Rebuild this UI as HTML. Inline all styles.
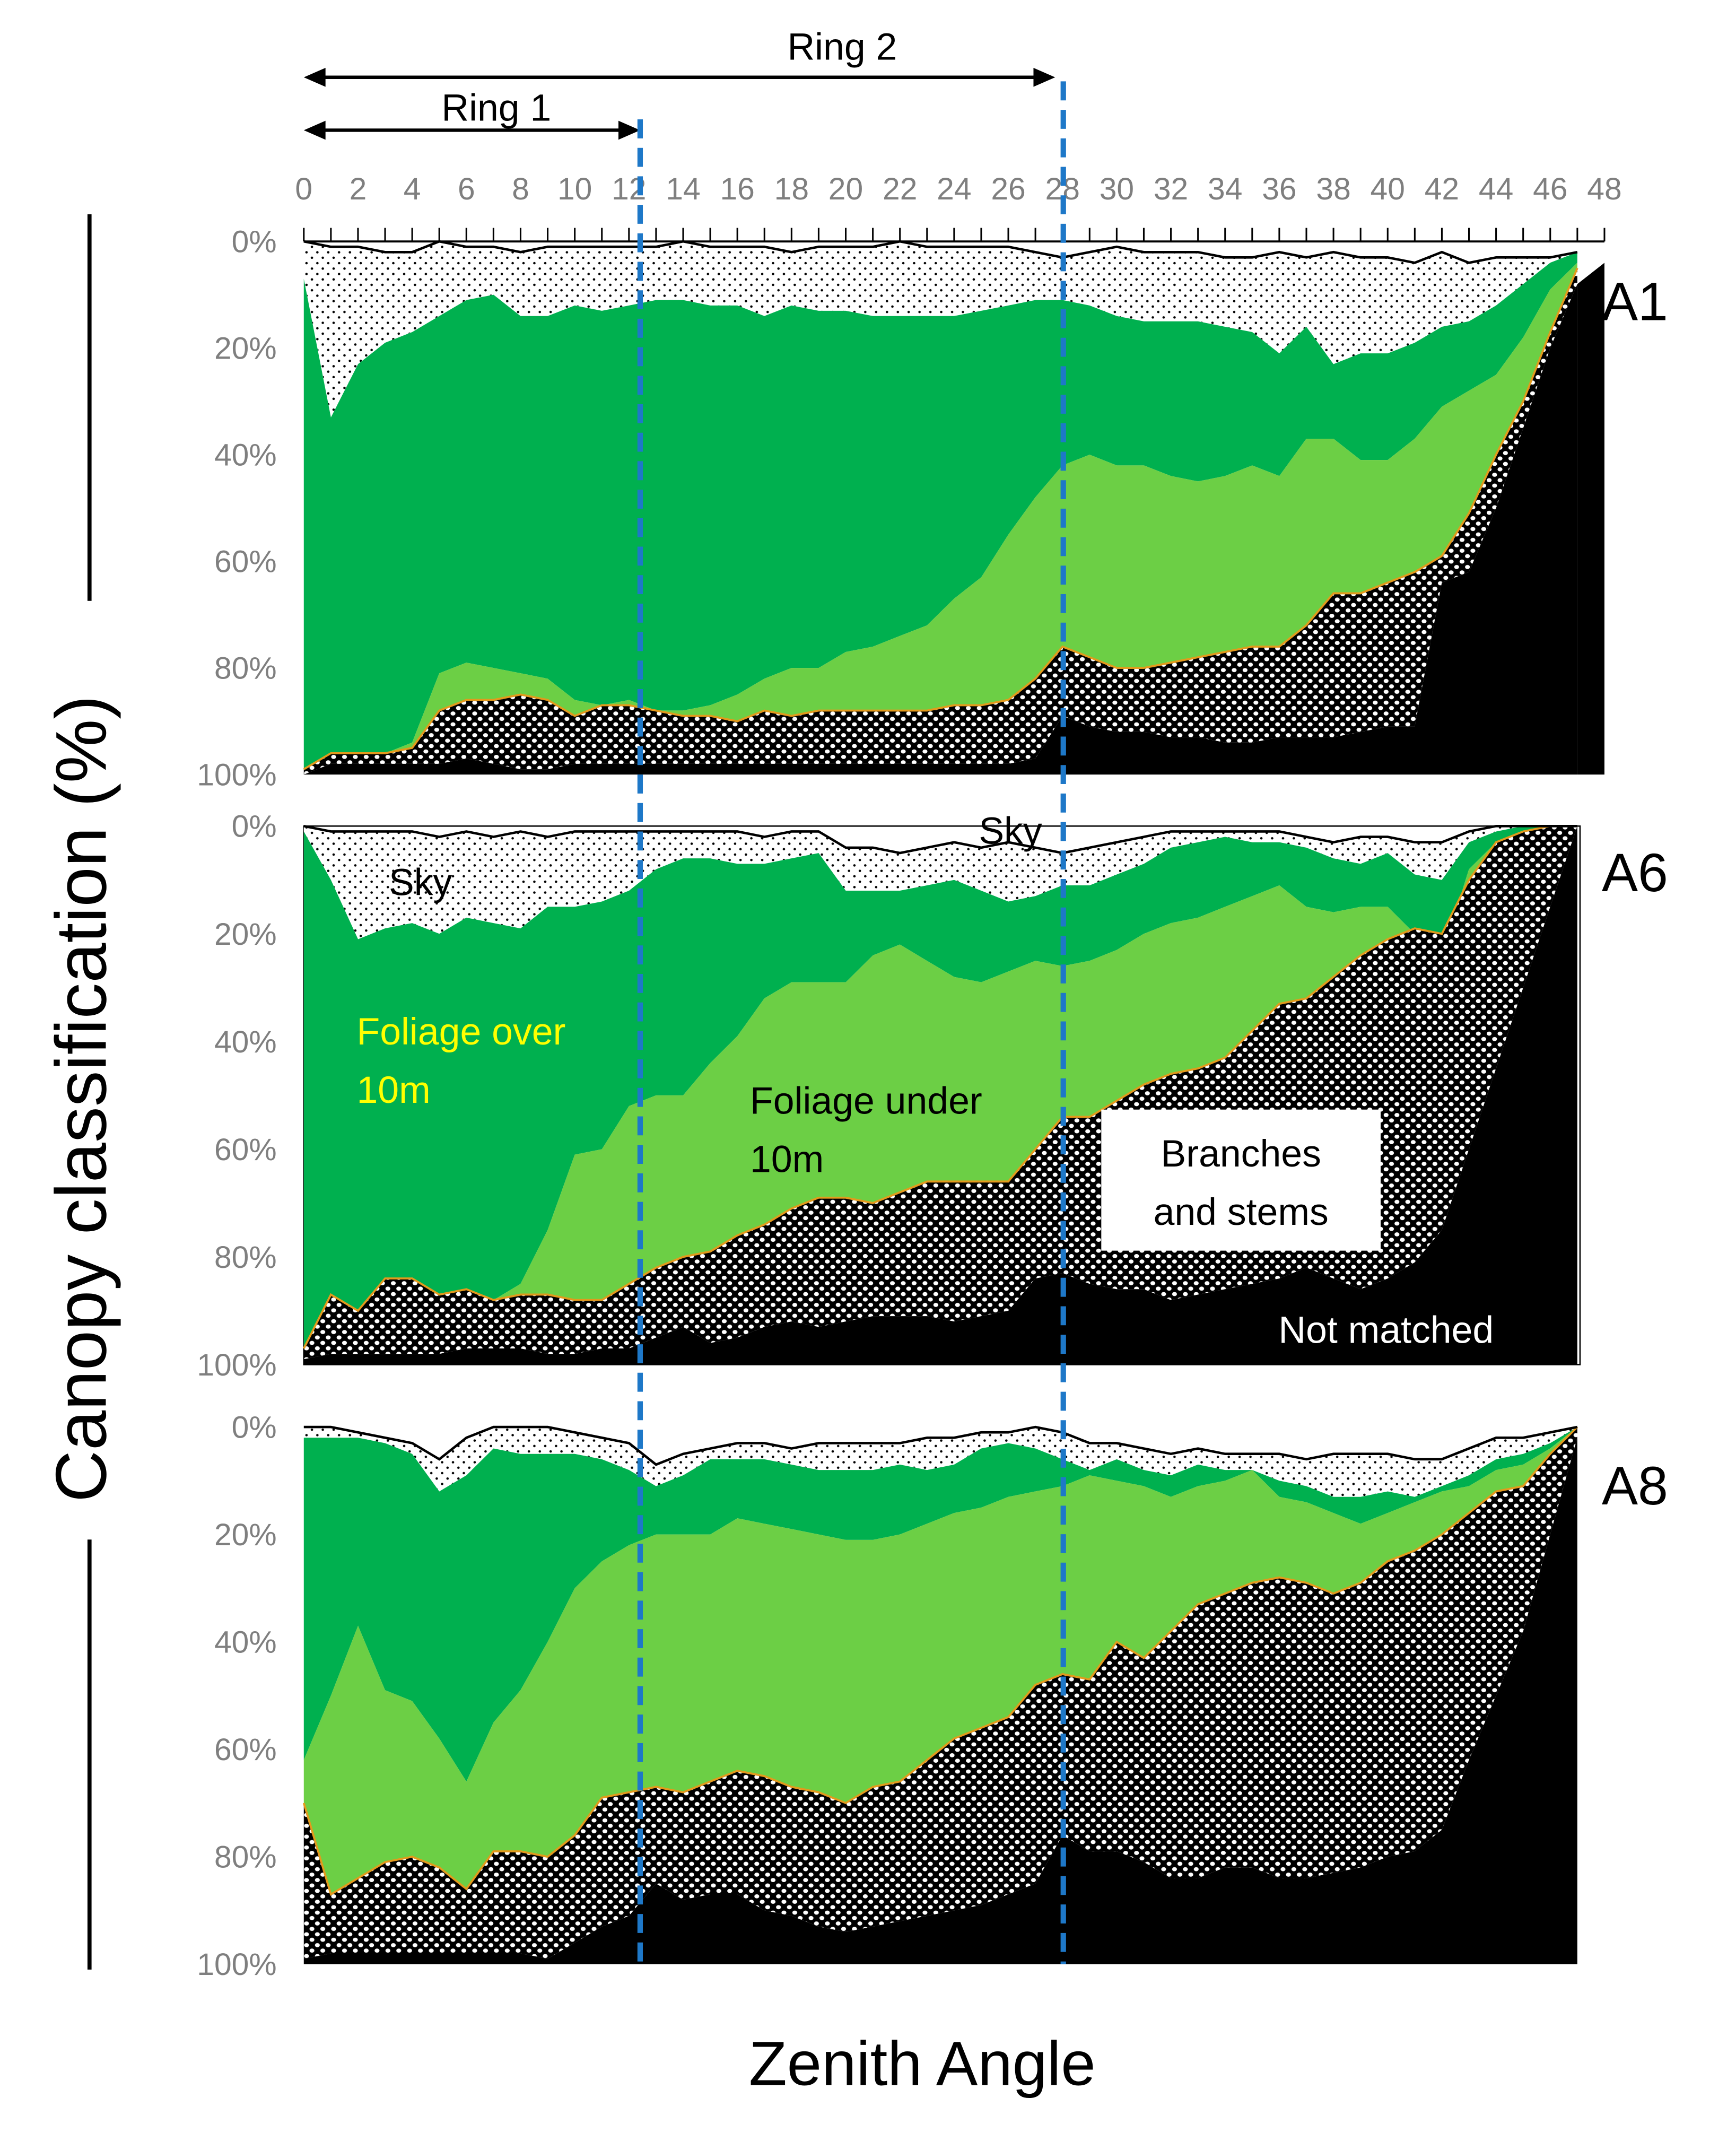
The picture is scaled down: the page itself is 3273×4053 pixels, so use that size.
<!DOCTYPE html>
<html><head><meta charset="utf-8"><style>
html,body{margin:0;padding:0;background:#fff}
svg{display:block}
text{font-family:"Liberation Sans",sans-serif}
</style></head><body>
<svg id="chart" width="3273" height="4053" viewBox="0 0 1280 1585" preserveAspectRatio="none" xmlns="http://www.w3.org/2000/svg">
<defs>
<pattern id="dots" patternUnits="userSpaceOnUse" width="8" height="8"><rect width="8" height="8" fill="#fff"/><circle cx="2" cy="2" r="0.9" fill="#000"/><circle cx="6" cy="6" r="0.9" fill="#000"/></pattern>
<pattern id="checker" patternUnits="userSpaceOnUse" width="8" height="8"><rect width="8" height="8" fill="#000"/><ellipse cx="2" cy="2" rx="1.8" ry="1.5" fill="#fff"/><ellipse cx="6" cy="6" rx="1.8" ry="1.5" fill="#fff"/></pattern>
</defs>
<g id="layers"></g>
<g id="axes"></g>
</svg>
<script>
const angles=[];for(let i=0;i<=47;i++)angles.push(i);
const tickLabels=[0,2,4,6,8,10,12,14,16,18,20,22,24,26,28,30,32,34,36,38,40,42,44,46,48];
const yTickLabels=["0%","20%","40%","60%","80%","100%"];
// A1 cumulative boundaries (%)
const a1SkyTop=[0,1,1,2,2,0,1,1,2,1,1,1,1,1,0,1,1,1,2,1,1,1,0,1,1,1,1,2,3,2,1,2,2,2,3,3,2,3,2,3,3,4,2,4,3,3,3,2];
const a1Sky=[7,33,23,19,17,14,11,10,14,14,12,13,12,11,11,12,12,14,12,13,13,14,14,14,14,13,12,11,11,12,14,15,15,15,16,17,21,16,23,21,21,19,16,15,12,8,4,2];
const a1Over=[99,97,96,96,94,81,79,80,81,82,86,87,86,88,88,87,85,82,80,80,77,76,74,72,67,63,55,48,42,40,42,42,44,45,44,42,44,37,37,41,41,37,31,28,25,18,9,4];
const a1Under=[99,96,96,96,95,88,86,86,85,86,89,87,87,88,89,89,90,88,89,88,88,88,88,88,87,87,86,82,76,78,80,80,79,78,77,76,76,72,66,66,64,62,59,51,40,30,17,5];
const a1Branch=[100,98,98,98,98,98,97,98,99,99,98,98,98,98,98,98,98,98,98,98,98,98,98,98,98,98,98,97,89,91,92,92,93,93,94,94,93,93,93,92,91,91,64,62,50,35,20,8];
// A6
const a6SkyTop=[0,1,1,1,1,2,1,2,1,2,1,1,1,1,1,1,1,2,1,1,4,4,5,4,3,4,3,4,5,4,3,2,1,1,1,1,1,2,3,2,2,3,3,1,0,0,0,0];
const a6Sky=[1,10,21,19,18,20,17,18,19,15,15,14,12,8,6,6,7,7,6,5,12,12,12,11,10,12,14,13,11,11,9,7,4,3,2,3,3,4,6,7,5,9,10,3,1,0,0,0];
const a6Over=[97,87,90,84,84,87,86,88,85,75,61,60,52,50,50,44,39,32,29,29,29,24,22,25,28,29,27,25,26,25,23,20,18,17,15,13,11,15,16,15,15,20,24,8,3,1,0,0];
const a6Under=[97,87,90,84,84,87,86,88,87,87,88,88,85,82,80,79,76,74,71,69,69,70,68,66,66,66,66,60,54,54,51,48,46,45,43,38,33,32,28,24,21,19,20,10,3,1,0,0];
const a6Branch=[99,98,98,98,98,98,97,97,97,98,98,97,97,95,93,96,95,93,92,93,92,91,91,91,92,91,90,84,83,85,86,86,88,87,86,85,84,82,84,86,84,81,75,60,45,30,15,0];
// A8
const a8SkyTop=[0,0,1,2,3,6,2,0,0,0,1,2,3,7,5,4,3,3,4,3,3,3,3,2,2,1,1,0,1,3,3,4,5,4,5,5,5,6,5,5,5,6,6,4,2,2,1,0];
const a8Sky=[2,2,2,3,5,12,9,4,5,5,5,6,8,11,9,6,6,6,7,8,8,8,7,8,7,4,3,4,6,8,6,8,9,7,8,8,10,11,13,13,12,13,11,9,6,5,3,0];
const a8Over=[62,50,37,49,51,58,66,55,49,40,30,25,22,20,20,20,17,18,19,20,21,21,20,18,16,15,13,12,11,9,10,11,13,11,10,8,13,14,16,18,16,14,12,11,8,7,4,0];
const a8Under=[70,87,84,81,80,82,86,79,79,80,76,69,68,67,68,66,64,65,67,68,70,67,66,62,58,56,54,48,46,47,40,43,38,33,31,29,28,29,31,29,25,23,20,16,12,11,5,0];
const a8Branch=[99,98,98,98,98,98,98,98,98,99,96,93,91,85,88,87,87,90,91,93,94,93,92,91,90,89,87,85,76,79,79,81,84,84,82,82,84,84,83,82,80,79,75,62,50,38,20,2];

const NS="http://www.w3.org/2000/svg";
const X0=224,X1=1183;
const xs=a=>X0+(X1-X0)*a/48;
const layers=document.getElementById('layers');
const axes=document.getElementById('axes');
function mk(tag,attrs,parent){const e=document.createElementNS(NS,tag);for(const k in attrs)e.setAttribute(k,attrs[k]);(parent||axes).appendChild(e);return e;}
function txt(x,y,s,size,fill,anchor,parent){const t=mk('text',{x:x,y:y,'font-size':size,fill:fill,'text-anchor':anchor||'start'},parent);t.textContent=s;return t;}

const panels=[
 {name:'a1',top:178,bot:571,st:a1SkyTop,s:a1Sky,o:a1Over,u:a1Under,b:a1Branch,label:'A1',ly:222,ext:[48,4]},
 {name:'a6',top:609,bot:1006,st:a6SkyTop,s:a6Sky,o:a6Over,u:a6Under,b:a6Branch,label:'A6',ly:643,box:true},
 {name:'a8',top:1052,bot:1448,st:a8SkyTop,s:a8Sky,o:a8Over,u:a8Under,b:a8Branch,label:'A8',ly:1095}
];
panels.forEach(p=>{
 const ys=v=>p.top+(p.bot-p.top)*v/100;
 const top=arr=>angles.map((a,i)=>[xs(a),ys(arr[i])]);
 const band=(upper,lower)=>{const u=top(upper),l=top(lower).reverse();return 'M'+u.concat(l).map(q=>q[0].toFixed(1)+','+q[1].toFixed(1)).join('L')+'Z';};
 const zeros=angles.map(()=>100);
 const g=mk('g',{},layers);
 
 
 if(p.box){const r=mk('rect',{x:X0,y:p.top,width:1165-X0,height:p.bot-p.top,fill:'none',stroke:'#000','stroke-width':1},g);}
 let e;
 e=mk('path',{d:band(p.st,p.s),fill:'url(#dots)'},g);
 e=mk('path',{d:band(p.s,p.o),fill:'#00b04f'},g);
 e=mk('path',{d:band(p.o,p.u),fill:'#6ccf45'},g);
 e=mk('path',{d:band(p.u,p.b),fill:'url(#checker)'},g);
 e=mk('path',{d:band(p.b,zeros),fill:'#000'},g);
 if(p.ext){e=mk('path',{d:`M${xs(47)},${ys(p.b[47])}L${xs(p.ext[0])},${ys(p.ext[1])}L${xs(p.ext[0])},${p.bot}L${xs(47)},${p.bot}Z`,fill:'#000'},g);}
 e=mk('polyline',{points:top(p.u).map(q=>q.join(',')).join(' '),fill:'none',stroke:'#e39a1c','stroke-width':1.5},g);
 e=mk('polyline',{points:top(p.st).map(q=>q.join(',')).join(' '),fill:'none',stroke:'#000','stroke-width':1.8},g);
 yTickLabels.forEach((l,i)=>{e=txt(204,ys(i*20)+8,l,23,'#7f7f7f','end');});
 e=txt(1181,p.ly+14,p.label,40,'#000','start');
});
// top axis
let e=mk('line',{x1:X0,y1:178,x2:X1,y2:178,stroke:'#000','stroke-width':1.5});
for(let a=0;a<=48;a++){e=mk('line',{x1:xs(a),y1:168,x2:xs(a),y2:178,stroke:'#000','stroke-width':1.2});}
tickLabels.forEach(v=>{e=txt(xs(v),147,String(v),23,'#7f7f7f','middle');});
// ring arrows
function arrow(x1,x2,y,name){const g=mk('g',{});
 mk('line',{x1:x1+8,y1:y,x2:x2-8,y2:y,stroke:'#000','stroke-width':2.5},g);
 mk('path',{d:`M${x1},${y}L${x1+16},${y-7}L${x1+16},${y+7}Z`,fill:'#000'},g);
 mk('path',{d:`M${x2},${y}L${x2-16},${y-7}L${x2-16},${y+7}Z`,fill:'#000'},g);}
arrow(224,778,57,'ring-2-arrow');arrow(224,472,96,'ring-1-arrow');
e=txt(621,44,'Ring 2',28,'#000','middle');
e=txt(366,89,'Ring 1',28,'#000','middle');
// dashed ring boundaries
e=mk('line',{x1:472,y1:88,x2:472,y2:1448,stroke:'#1e78c8','stroke-width':4,'stroke-dasharray':'14 7'});
e=mk('line',{x1:784,y1:60,x2:784,y2:1448,stroke:'#1e78c8','stroke-width':4,'stroke-dasharray':'14 7'});
// annotations
e=txt(310,660,'Sky',28,'#000','middle');
e=txt(745,622,'Sky',28,'#000','middle');
e=txt(263,770,'Foliage over',28,'#ffff00');
txt(263,813,'10m',28,'#ffff00');
e=txt(553,821,'Foliage under',28,'#000');
txt(553,864,'10m',28,'#000');
e=mk('rect',{x:812,y:818,width:206,height:104,fill:'#fff'});
e=txt(915,860,'Branches',28,'#000','middle');
txt(915,903,'and stems',28,'#000','middle');
e=txt(1022,990,'Not matched',28,'#fff','middle');
// axis titles
e=mk('line',{x1:66,y1:158,x2:66,y2:443,stroke:'#000','stroke-width':3});
e=mk('line',{x1:66,y1:1135,x2:66,y2:1452,stroke:'#000','stroke-width':3});
e=txt(0,0,'Canopy classification (%)',53,'#000','middle');e.setAttribute('transform','translate(78,810) rotate(-90)');
e=txt(680,1537,'Zenith Angle',46,'#000','middle');
</script>
</body></html>
